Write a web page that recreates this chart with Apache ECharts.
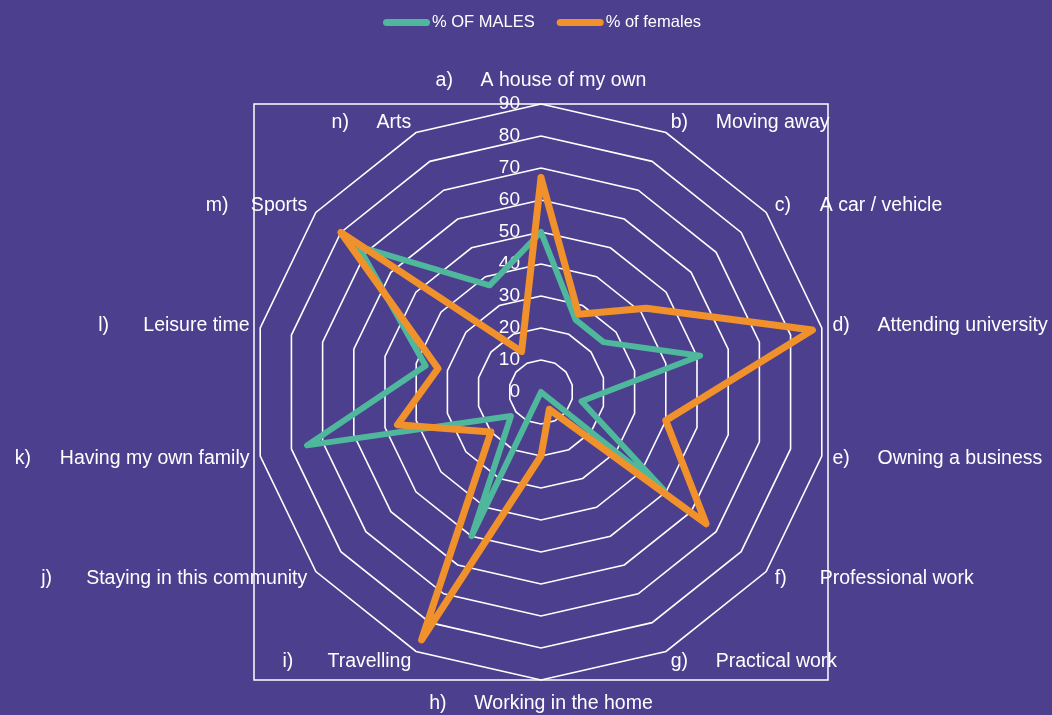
<!DOCTYPE html>
<html>
<head>
<meta charset="utf-8">
<script src="https://cdn.jsdelivr.net/npm/echarts@6/dist/echarts.min.js"></script>
<style>
html,body{margin:0;padding:0;background:#4B3F8E;}
#c{width:1052px;height:715px;}
</style>
</head>
<body>
<div id="c"></div>
<script>
// ---- data (clockwise from the top) ----
var letters = ['a)', 'b)', 'c)', 'd)', 'e)', 'f)', 'g)', 'h)', 'i)', 'j)', 'k)', 'l)', 'm)', 'n)'];
var categories = ['A house of my own', 'Moving away', 'A car / vehicle', 'Attending university',
  'Owning a business', 'Professional work', 'Practical work', 'Working in the home',
  'Travelling', 'Staying in this community', 'Having my own family', 'Leisure time',
  'Sports', 'Arts'];
var males = [50, 25, 25, 51, 13, 49, 0, 0, 50, 12, 75, 37, 73, 37];
var females = [67, 27, 42, 87, 40, 66, 6, 20, 86, 20, 46, 33, 80, 14];
var seriesNames = ['% OF MALES', '% of females'];
var axisMax = 90;

var bg = '#4B3F8E';
var green = '#4FB89C';
var orange = '#F0912C';
var font = '"Liberation Sans", Arial, sans-serif';

// ECharts lays radar indicators counter-clockwise; reorder so the chart runs clockwise
function cw(arr) {
  var out = [arr[0]];
  for (var i = arr.length - 1; i >= 1; i--) out.push(arr[i]);
  return out;
}

var indicator = cw(categories.map(function (c, i) {
  return { name: letters[i] + '\t' + c, max: axisMax, min: 0 };
}));
indicator[0].axisLabel = { show: true };

var pill = 'path://M3.5,0 L43.5,0 A3.5,3.5 0 0 1 43.5,7 L3.5,7 A3.5,3.5 0 0 1 3.5,0 Z';

var chart = echarts.init(document.getElementById('c'));
chart.setOption({
  backgroundColor: bg,
  animation: false,
  textStyle: { fontFamily: font },
  legend: {
    top: 9,
    left: 378,
    itemWidth: 47,
    itemHeight: 7,
    itemGap: 22,
    textStyle: { color: '#ffffff', fontSize: 16.5, fontFamily: font, padding: [0, 0, 0, -3] },
    data: [
      { name: seriesNames[0], icon: pill, itemStyle: { color: green } },
      { name: seriesNames[1], icon: pill, itemStyle: { color: orange } }
    ]
  },
  grid: {
    show: true,
    left: 254, top: 104, width: 574, height: 576,
    borderColor: '#ffffff', borderWidth: 1.5,
    backgroundColor: 'transparent'
  },
  xAxis: { show: false, type: 'value', min: 0, max: 1 },
  yAxis: { show: false, type: 'value', min: 0, max: 1 },
  radar: {
    center: [541, 392],
    radius: 288,
    shape: 'polygon',
    splitNumber: 9,
    indicator: indicator,
    nameGap: 11,
    axisName: {
      color: '#ffffff', fontSize: 19.5, lineHeight: 25, fontFamily: font,
      formatter: function (name) {
        var parts = name.split('\t');
        return '{k|' + parts[0] + '}{v|' + parts[1] + '}';
      },
      rich: {
        k: { width: 45, align: 'left', color: '#ffffff', fontSize: 19.5, lineHeight: 25, fontFamily: font },
        v: { color: '#ffffff', fontSize: 19.5, lineHeight: 25, fontFamily: font }
      }
    },
    axisLine: { show: false },
    axisTick: { show: false },
    axisLabel: { show: false, color: '#ffffff', fontSize: 19, fontFamily: font, margin: 21 },
    splitLine: { lineStyle: { color: '#ffffff', width: 1.6 } },
    splitArea: { show: false }
  },
  series: [{
    type: 'radar',
    symbol: 'none',
    data: [
      { name: seriesNames[0], value: cw(males),
        lineStyle: { color: green, width: 6, join: 'round', cap: 'round' },
        itemStyle: { color: green } },
      { name: seriesNames[1], value: cw(females),
        lineStyle: { color: orange, width: 7, join: 'round', cap: 'round' },
        itemStyle: { color: orange } }
    ]
  }]
});
</script>
</body>
</html>
